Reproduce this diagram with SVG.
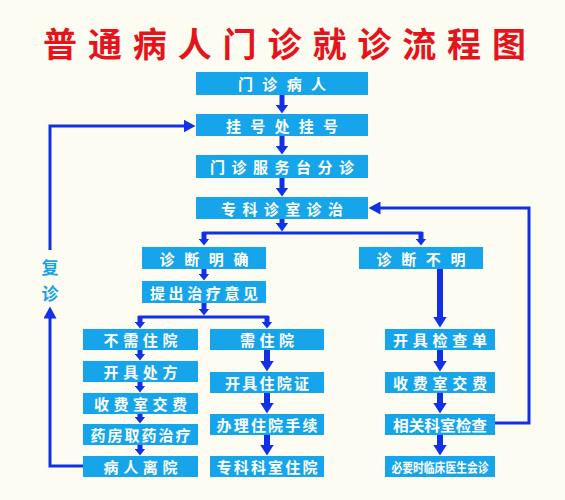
<svg xmlns="http://www.w3.org/2000/svg" width="565" height="500" viewBox="0 0 565 500">
<defs>
<style>
.bx{fill:#16a5ea}
.t{font-family:"Noto Sans CJK SC","Noto Sans",sans-serif;font-weight:700;font-size:15px;fill:#ffffff;text-anchor:middle;dominant-baseline:central}
.ttl{font-family:"Noto Sans CJK SC","Noto Sans",sans-serif;font-weight:700;font-size:34px;fill:#e5141c;text-anchor:middle;dominant-baseline:central}
.side{font-family:"Noto Sans CJK SC","Noto Sans",sans-serif;font-weight:700;font-size:17px;fill:#1aa3e6;text-anchor:middle;dominant-baseline:central}
.s5{stroke:#1230e4;stroke-width:5;fill:none}
.s6{stroke:#1230e4;stroke-width:6;fill:none}
.s3{stroke:#1230e4;stroke-width:3;fill:none}
</style>
<marker id="ahS" markerUnits="userSpaceOnUse" markerWidth="8" markerHeight="11" refX="0.5" refY="5.5" orient="auto"><path d="M0,0 L7,5.5 L0,11 z" fill="#1230e4"/></marker>
<marker id="ahM" markerUnits="userSpaceOnUse" markerWidth="10" markerHeight="13" refX="0.5" refY="6.5" orient="auto"><path d="M0,0 L9,6.5 L0,13 z" fill="#1230e4"/></marker>
<marker id="ahL" markerUnits="userSpaceOnUse" markerWidth="12" markerHeight="14" refX="0.5" refY="7" orient="auto"><path d="M0,0 L11,7 L0,14 z" fill="#1230e4"/></marker>
<marker id="ahP" markerUnits="userSpaceOnUse" markerWidth="13" markerHeight="13" refX="0.5" refY="6.5" orient="auto"><path d="M0,0 L12,6.5 L0,13 z" fill="#1230e4"/></marker>
</defs>
<rect x="0" y="0" width="565" height="500" fill="#fcfcf2"/>
<text class="ttl" x="284.5" y="42" textLength="483" lengthAdjust="spacing">普通病人门诊就诊流程图</text>

<g id="connectors">
<line class="s5" x1="282" y1="95" x2="282" y2="105" marker-end="url(#ahM)"/>
<line class="s5" x1="282" y1="136" x2="282" y2="146" marker-end="url(#ahM)"/>
<line class="s5" x1="282" y1="178" x2="282" y2="188" marker-end="url(#ahM)"/>
<line class="s5" x1="282" y1="219" x2="282" y2="223" marker-end="url(#ahM)"/>
<line class="s3" x1="202.5" y1="233" x2="422.5" y2="233"/>
<line class="s5" x1="204" y1="232" x2="204" y2="239" marker-end="url(#ahS)"/>
<line class="s5" x1="421" y1="232" x2="421" y2="239" marker-end="url(#ahS)"/>
<line class="s5" x1="204" y1="269" x2="204" y2="274" marker-end="url(#ahS)"/>
<line class="s5" x1="204" y1="303" x2="204" y2="309" marker-end="url(#ahS)"/>
<line class="s3" x1="138.5" y1="317" x2="268.5" y2="317"/>
<line class="s5" x1="140" y1="316" x2="140" y2="322" marker-end="url(#ahS)"/>
<line class="s5" x1="267" y1="316" x2="267" y2="322" marker-end="url(#ahS)"/>
<line class="s5" x1="140" y1="350" x2="140" y2="354" marker-end="url(#ahS)"/>
<line class="s5" x1="140" y1="382" x2="140" y2="386" marker-end="url(#ahS)"/>
<line class="s5" x1="140" y1="414" x2="140" y2="417" marker-end="url(#ahS)"/>
<line class="s5" x1="140" y1="445" x2="140" y2="449" marker-end="url(#ahS)"/>
<line class="s6" x1="267" y1="350" x2="267" y2="361" marker-end="url(#ahL)"/>
<line class="s6" x1="267" y1="393" x2="267" y2="403" marker-end="url(#ahL)"/>
<line class="s6" x1="267" y1="435" x2="267" y2="445" marker-end="url(#ahL)"/>
<line class="s6" x1="440" y1="269" x2="440" y2="317" marker-end="url(#ahL)"/>
<line class="s6" x1="440" y1="350" x2="440" y2="361" marker-end="url(#ahL)"/>
<line class="s6" x1="440" y1="393" x2="440" y2="403" marker-end="url(#ahL)"/>
<line class="s6" x1="440" y1="435" x2="440" y2="445" marker-end="url(#ahL)"/>
<path class="s3" d="M50,250 V126 H184" marker-end="url(#ahP)"/>
<path class="s3" d="M83,466 H50 V318" marker-end="url(#ahP)"/>
<path class="s3" d="M495,423 H529 V208 H380" marker-end="url(#ahP)"/>
<text class="side" x="50" y="266">复</text>
<text class="side" x="50" y="292">诊</text>
</g>

<g id="n1"><rect class="bx" x="196" y="72" width="172" height="23"/><text class="t" x="282" y="83.5" textLength="88" lengthAdjust="spacing">门诊病人</text></g>
<g id="n2"><rect class="bx" x="196" y="114" width="172" height="22"/><text class="t" x="282" y="125" textLength="112" lengthAdjust="spacing">挂号处挂号</text></g>
<g id="n3"><rect class="bx" x="196" y="155" width="172" height="23"/><text class="t" x="282" y="166.5" textLength="144" lengthAdjust="spacing">门诊服务台分诊</text></g>
<g id="n4"><rect class="bx" x="196" y="197" width="172" height="22"/><text class="t" x="282" y="208" textLength="122" lengthAdjust="spacing">专科诊室诊治</text></g>
<g id="n5"><rect class="bx" x="142" y="247" width="124" height="22"/><text class="t" x="204" y="258" textLength="89" lengthAdjust="spacing">诊断明确</text></g>
<g id="n6"><rect class="bx" x="359" y="247" width="124" height="22"/><text class="t" x="421" y="258" textLength="89" lengthAdjust="spacing">诊断不明</text></g>
<g id="n7"><rect class="bx" x="142" y="281" width="124" height="22"/><text class="t" x="204" y="292" textLength="108" lengthAdjust="spacing">提出治疗意见</text></g>
<g id="n8"><rect class="bx" x="83" y="329" width="115" height="21"/><text class="t" x="140.5" y="339.5" textLength="74" lengthAdjust="spacing">不需住院</text></g>
<g id="n9"><rect class="bx" x="83" y="361" width="115" height="21"/><text class="t" x="140.5" y="371.5" textLength="74" lengthAdjust="spacing">开具处方</text></g>
<g id="n10"><rect class="bx" x="83" y="393" width="115" height="21"/><text class="t" x="140.5" y="403.5" textLength="93" lengthAdjust="spacing">收费室交费</text></g>
<g id="n11"><rect class="bx" x="83" y="424" width="115" height="21"/><text class="t" x="140.5" y="434.5" textLength="100" lengthAdjust="spacing">药房取药治疗</text></g>
<g id="n12"><rect class="bx" x="83" y="456" width="115" height="21"/><text class="t" x="140.5" y="466.5" textLength="74" lengthAdjust="spacing">病人离院</text></g>
<g id="n13"><rect class="bx" x="210" y="329" width="114" height="21"/><text class="t" x="267" y="339.5" textLength="54" lengthAdjust="spacing">需住院</text></g>
<g id="n14"><rect class="bx" x="210" y="372" width="114" height="21"/><text class="t" x="267" y="382.5" textLength="84" lengthAdjust="spacing">开具住院证</text></g>
<g id="n15"><rect class="bx" x="210" y="414" width="114" height="21"/><text class="t" x="267" y="424.5" textLength="101" lengthAdjust="spacing">办理住院手续</text></g>
<g id="n16"><rect class="bx" x="210" y="456" width="114" height="21"/><text class="t" x="267" y="466.5" textLength="101" lengthAdjust="spacing">专科科室住院</text></g>
<g id="n17"><rect class="bx" x="385" y="329" width="110" height="21"/><text class="t" x="440" y="339.5" textLength="94" lengthAdjust="spacing">开具检查单</text></g>
<g id="n18"><rect class="bx" x="385" y="372" width="110" height="21"/><text class="t" x="440" y="382.5" textLength="94" lengthAdjust="spacing">收费室交费</text></g>
<g id="n19"><rect class="bx" x="385" y="414" width="110" height="21"/><text class="t" x="440" y="424.5" textLength="94" lengthAdjust="spacingAndGlyphs">相关科室检查</text></g>
<g id="n20"><rect class="bx" x="385" y="456" width="110" height="21"/><text class="t" x="440" y="466.5" style="font-size:13px" textLength="97" lengthAdjust="spacingAndGlyphs">必要时临床医生会诊</text></g>
</svg>
